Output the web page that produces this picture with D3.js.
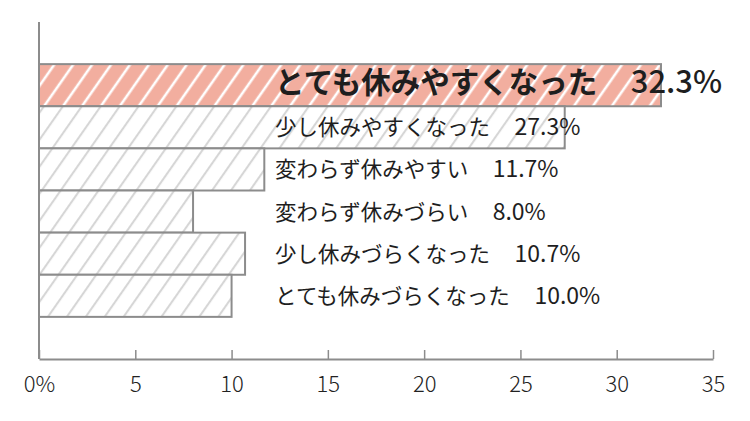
<!DOCTYPE html>
<html>
<head>
<meta charset="utf-8">
<script src="https://cdn.jsdelivr.net/npm/d3@7"></script>
<style>
  html, body { margin: 0; padding: 0; background: #fff; }
  svg { display: block; font-family: "Noto Sans CJK JP", "Noto Sans", sans-serif; }
</style>
</head>
<body>
<div id="chart"></div>
<script>
// chart data
const categories = [
  'とても休みやすくなった',
  '少し休みやすくなった',
  '変わらず休みやすい',
  '変わらず休みづらい',
  '少し休みづらくなった',
  'とても休みづらくなった'
];
const values = [32.3, 27.3, 11.7, 8.0, 10.7, 10.0];
const tickValues = [0, 5, 10, 15, 20, 25, 30, 35];
const tickLabels = ['0%', '5', '10', '15', '20', '25', '30', '35'];

var width = 750;
var height = 421;
var plotLeft = 39, plotRight = 713, plotTop = 22, axisY = 359;

var svg = d3.select('#chart')
  .append('svg')
  .attr('width', width)
  .attr('height', height);

var x = d3.scaleLinear().domain([0, 35]).range([plotLeft, plotRight]);
var y = d3.scaleBand()
  .domain(categories)
  .range([plotTop, axisY])
  .paddingInner(0)
  .paddingOuter(1);

// hatch patterns
var defs = svg.append('defs');
function hatch(id, bg, stroke, sw) {
  var p = defs.append('pattern')
    .attr('id', id)
    .attr('patternUnits', 'userSpaceOnUse')
    .attr('width', 15.5)
    .attr('height', 15.5)
    .attr('patternTransform', 'rotate(35)');
  p.append('rect').attr('width', 15.5).attr('height', 15.5).attr('fill', bg);
  p.append('line')
    .attr('x1', 4).attr('y1', 0).attr('x2', 4).attr('y2', 15.5)
    .attr('stroke', stroke).attr('stroke-width', sw);
}
hatch('hatchPink', '#f2ae9f', '#ffffff', 2.6);
hatch('hatchGray', '#ffffff', '#d4d4d4', 2);

// bars
svg.selectAll('rect.bar')
  .data(values)
  .enter()
  .append('rect')
  .attr('class', 'bar')
  .attr('x', x(0))
  .attr('y', (d, i) => y(categories[i]))
  .attr('width', d => x(d) - x(0))
  .attr('height', y.bandwidth())
  .attr('fill', (d, i) => i == 0 ? 'url(#hatchPink)' : 'url(#hatchGray)')
  .attr('stroke', '#8c8c8c')
  .attr('stroke-width', 2);

// labels: category + value
var labelX = x(12) + 5;
var labels = svg.selectAll('text.lbl')
  .data(values)
  .enter()
  .append('text')
  .attr('class', 'lbl')
  .attr('x', labelX)
  .attr('y', (d, i) => y(categories[i]) + y.bandwidth() / 2)
  .attr('dy', '0.5em')
  .attr('fill', '#1e1e1e')
  .style('font-weight', (d, i) => i == 0 ? 700 : 400);

labels.append('tspan')
  .style('font-size', (d, i) => i == 0 ? '29.5px' : '21.5px')
  .text((d, i) => categories[i] + '\u3000');

labels.append('tspan')
  .attr('dx', (d, i) => i == 0 ? 4 : 3)
  .style('font-size', (d, i) => i == 0 ? '31px' : '23px')
  .style('font-weight', (d, i) => i == 0 ? 500 : 400)
  .text(d => d.toFixed(1) + '%');

// y axis line
svg.append('line')
  .attr('x1', plotLeft).attr('x2', plotLeft)
  .attr('y1', plotTop).attr('y2', axisY)
  .attr('stroke', '#8c8c8c')
  .attr('stroke-width', 2);

// x axis
var xAxis = svg.append('g')
  .attr('transform', 'translate(0,' + axisY + ')')
  .call(d3.axisBottom(x)
    .tickValues(tickValues)
    .tickSize(-9)
    .tickSizeOuter(0)
    .tickPadding(17)
    .tickFormat((d, i) => tickLabels[i]));
xAxis.select('.domain').attr('stroke', '#8c8c8c').attr('stroke-width', 2);
xAxis.selectAll('.tick line').attr('stroke', '#8c8c8c').attr('stroke-width', 1.5);
xAxis.selectAll('.tick text')
  .attr('fill', '#222')
  .style('font-size', '22px')
  .style('font-family', '"Noto Sans CJK JP", sans-serif')
  .style('font-weight', 300);
</script>
</body>
</html>
